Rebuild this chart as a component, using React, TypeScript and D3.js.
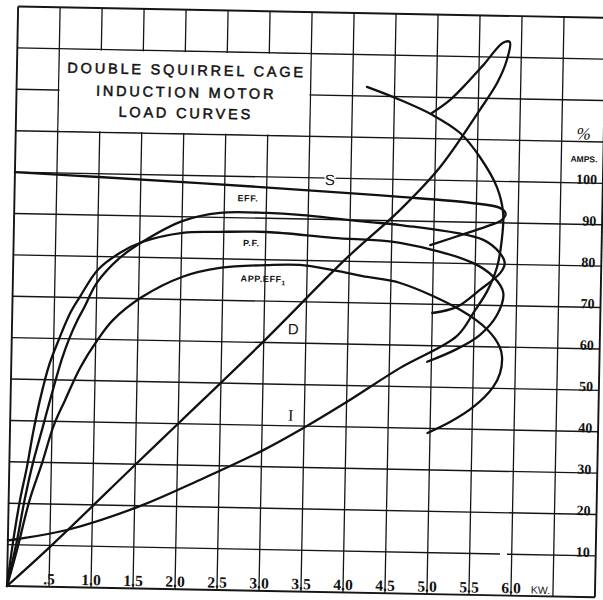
import * as d3 from 'd3'
import { useEffect, useRef } from 'react'

type Pt = [number, number] // [kW, per cent / amps]

// axis ticks
const xTickValues = [0.5, 1, 1.5, 2, 2.5, 3, 3.5, 4, 4.5, 5, 5.5, 6]
const xTickLabels = ['.5', '1.0', '1.5', '2.0', '2.5', '3.0', '3.5', '4.0', '4.5', '5.0', '5.5', '6.0']
const yTickValues = [10, 20, 30, 40, 50, 60, 70, 80, 90, 100]
const titleLines = ['DOUBLE SQUIRREL CAGE', 'INDUCTION MOTOR', 'LOAD CURVES']

// curves, in drawing order (they fold back past max output)
const curveS: Pt[] = [
  [0, 100], [1.0, 99.2], [2.2, 98.2], [3.76, 96.7], [4.59, 95.8], [5.42, 94.7],
  [5.78, 93.6], [5.85, 92.2], [5.8, 90.6], [5.67, 89.4], [5.4, 87.4], [4.96, 84.3],
]
const curveEff: Pt[] = [
  [0, 0], [0.11, 11.2], [0.19, 20.9], [0.28, 29.8], [0.39, 38.6], [0.47, 45.1],
  [0.6, 55], [0.68, 59.8], [0.78, 64.6], [0.86, 67.8], [1.0, 73.6], [1.27, 79.8],
  [1.53, 83.7], [2.01, 89], [2.45, 91.1], [3.01, 91.3], [3.4, 91], [4.2, 89.6],
  [4.6, 89], [5.59, 85.8], [5.79, 82.7], [5.85, 80.3], [5.8, 77.9], [5.56, 73.7],
  [5.29, 69.5], [5.0, 67.9],
]
const curvePf: Pt[] = [
  [0, 0], [0.06, 10.4], [0.135, 20.8], [0.21, 28.8], [0.275, 37.1], [0.35, 45.1],
  [0.45, 53.5], [0.56, 59.7], [0.69, 66.2], [0.8, 70.1], [1.01, 76.8], [1.27, 81],
  [1.53, 83.7], [2.01, 86.1], [2.45, 86.5], [3.01, 86.7], [3.8, 85.6], [4.6, 84.7],
  [5.47, 80.2], [5.72, 76.9], [5.84, 73.1], [5.77, 67.7], [5.57, 62.8], [5.28, 59.1],
  [4.95, 56.1],
]
const curveAppEff: Pt[] = [
  [0, 0], [0.11, 8.7], [0.25, 20.9], [0.39, 29.9], [0.52, 39], [0.65, 45.2],
  [0.82, 53], [1.02, 59.8], [1.2, 64.7], [1.54, 70.4], [2.02, 75.5], [2.46, 77.8],
  [3.02, 78.7], [3.41, 78.9], [3.81, 77.8], [4.22, 76.3], [4.61, 75], [5.33, 68.8],
  [5.66, 64.1], [5.81, 60], [5.84, 57.6], [5.82, 53.7], [5.74, 50.3], [5.51, 45.4],
  [5.24, 41.7], [4.97, 38.9],
]
const curveD: Pt[] = [
  [0, 0], [0.5, 9.6], [1.52, 30.3], [2.02, 40.4], [2.98, 59.9], [3.97, 80.8],
  [4.59, 92.6], [5.06, 103.2], [5.52, 117.2], [5.72, 123.8], [5.83, 129.4],
  [5.86, 133.7], [5.78, 133.5], [5.55, 128], [5.36, 123.6], [5.16, 119.4], [4.95, 116.2],
]
const curveI: Pt[] = [
  [0, 11], [0.12, 11.4], [0.7, 13.8], [1.54, 19.7], [2.27, 26.5], [3.02, 34],
  [3.49, 39.5], [4.0, 46], [4.63, 54.5], [5.3, 62.5], [5.5, 68.5], [5.65, 73.5],
  [5.76, 79.3], [5.81, 85.9], [5.82, 92.4], [5.74, 98.6], [5.53, 105.8],
  [5.29, 111.5], [4.96, 115.7], [4.57, 119.2], [4.17, 122.2],
]

const App = () => {
  const ref = useRef<SVGSVGElement>(null)

  useEffect(() => {
    if (!ref.current) return
    const root = d3.select(ref.current)
    root.selectAll('*').remove()

    root.append('rect').attr('width', 603).attr('height', 600).attr('fill', '#fff')

    // the plate is scanned slightly askew
    const g = root.append('g').attr('transform', 'translate(7,586) rotate(1.1)')

    const x = d3.scaleLinear().domain([0, 7]).range([0, 588])
    const y = d3.scaleLinear().domain([0, 140]).range([0, -579.6])

    // grid
    const xs = d3.range(0, 7.01, 0.5)
    const ys = d3.range(0, 141, 10)
    g.append('g')
      .selectAll('line')
      .data(xs)
      .join('line')
      .attr('x1', (d) => x(d))
      .attr('x2', (d) => x(d))
      .attr('y1', y(0))
      .attr('y2', y(140))
      .attr('stroke', '#151515')
      .attr('stroke-width', (d) => (d === 0 || d === 7 ? 1.9 : 1.3))
    g.append('g')
      .selectAll('line')
      .data(ys)
      .join('line')
      .attr('x1', x(0))
      .attr('x2', x(7))
      .attr('y1', (d) => y(d))
      .attr('y2', (d) => y(d))
      .attr('stroke', '#151515')
      .attr('stroke-width', (d) => (d === 0 || d === 140 ? 1.9 : 1.4))
      // the 10 line is broken just past 5.8 kW on the plate
      .attr('stroke-dasharray', (d) => (d === 10 ? `${x(5.86)} 7 1000` : null))

    // title box
    g.append('rect')
      .attr('x', x(0.5) + 1)
      .attr('y', y(130) + 1)
      .attr('width', x(3.5) - x(0.5) - 2)
      .attr('height', y(110) - y(130) - 2)
      .attr('fill', '#fff')
    const titleV = [125.5, 120.1, 115.1]
    g.append('g')
      .selectAll('text')
      .data(titleLines)
      .join('text')
      .attr('x', x(2.02))
      .attr('y', (_, i) => y(titleV[i]))
      .attr('dy', '0.36em')
      .attr('text-anchor', 'middle')
      .style('font-family', 'Liberation Sans, Arial, sans-serif')
      .style('font-size', '14.5px')
      .style('letter-spacing', '2.8px')
      .attr('fill', '#111')
      .attr('stroke', '#111')
      .attr('stroke-width', 0.5)
      .text((d) => d)

    // curves
    const line = d3
      .line<Pt>()
      .x((d) => x(d[0]))
      .y((d) => y(d[1]))
      .curve(d3.curveCatmullRom.alpha(0.5))
    const curves = [curveS, curveEff, curvePf, curveAppEff, curveD, curveI]
    g.append('g')
      .selectAll('path')
      .data(curves)
      .join('path')
      .attr('d', (d) => line(d))
      .attr('fill', 'none')
      .attr('stroke', '#111')
      .attr('stroke-width', 2.3)
      .attr('stroke-linejoin', 'round')
      .attr('stroke-linecap', 'round')

    // x tick labels
    g.append('g')
      .selectAll('text')
      .data(xTickValues)
      .join('text')
      .attr('x', (d) => x(d))
      .attr('y', y(0.6))
      .attr('text-anchor', 'middle')
      .style('font-family', 'Liberation Serif, serif')
      .style('font-weight', 'bold')
      .style('font-size', '15.5px')
      .attr('fill', '#111')
      .text((_, i) => xTickLabels[i])
    g.append('text')
      .attr('x', x(6.35))
      .attr('y', y(0.6))
      .attr('text-anchor', 'middle')
      .style('font-family', 'Liberation Sans, sans-serif')
      .style('font-size', '10.5px')
      .attr('fill', '#111')
      .text('KW.')

    // y tick labels
    g.append('g')
      .selectAll('text')
      .data(yTickValues)
      .join('text')
      .attr('x', x(6.93))
      .attr('y', (d) => y(d) + 1)
      .attr('text-anchor', 'end')
      .style('font-family', 'Liberation Serif, serif')
      .style('font-weight', 'bold')
      .style('font-size', '14px')
      .attr('fill', '#111')
      .text((d) => `${d}`)
    g.append('text')
      .attr('x', x(6.76))
      .attr('y', y(112))
      .attr('dy', '0.36em')
      .attr('text-anchor', 'middle')
      .style('font-family', 'Liberation Serif, serif')
      .style('font-style', 'italic')
      .style('font-size', '17px')
      .attr('fill', '#111')
      .text('%')
    g.append('text')
      .attr('x', x(6.77))
      .attr('y', y(105.8))
      .attr('dy', '0.36em')
      .attr('text-anchor', 'middle')
      .style('font-family', 'Liberation Sans, sans-serif')
      .style('font-weight', 'bold')
      .style('font-size', '8.5px')
      .attr('fill', '#111')
      .text('AMPS.')

    // curve labels
    const small = (t: string, u: number, v: number) =>
      g
        .append('text')
        .attr('x', x(u))
        .attr('y', y(v))
        .attr('dy', '0.36em')
        .attr('text-anchor', 'middle')
        .style('font-family', 'Liberation Sans, sans-serif')
        .style('font-weight', 'bold')
        .style('font-size', '9px')
        .style('letter-spacing', '0.6px')
        .attr('fill', '#111')
        .text(t)
    small('EFF.', 2.78, 94.8)
    small('P.F.', 2.83, 84)
    const app = small('APP.EFF', 2.98, 75.4)
    app
      .append('tspan')
      .attr('dy', '3')
      .style('font-size', '6.5px')
      .text('1')

    g.append('text')
      .attr('x', x(3.75))
      .attr('y', y(99.6))
      .attr('dy', '0.36em')
      .attr('text-anchor', 'middle')
      .style('font-family', 'Liberation Sans, sans-serif')
      .style('font-size', '15px')
      .attr('fill', '#111')
      .attr('stroke', '#fff')
      .attr('stroke-width', 3)
      .attr('paint-order', 'stroke')
      .text('S')
    g.append('text')
      .attr('x', x(3.35))
      .attr('y', y(63.4))
      .attr('dy', '0.36em')
      .attr('text-anchor', 'middle')
      .style('font-family', 'Liberation Sans, sans-serif')
      .style('font-size', '15px')
      .attr('fill', '#111')
      .text('D')
    g.append('text')
      .attr('x', x(3.34))
      .attr('y', y(42.6))
      .attr('dy', '0.36em')
      .attr('text-anchor', 'middle')
      .style('font-family', 'Liberation Serif, serif')
      .style('font-size', '16px')
      .attr('fill', '#111')
      .text('I')
  }, [])

  return (
    <svg
      ref={ref}
      width={603}
      height={600}
      style={{ position: 'absolute', left: 0, top: 0, display: 'block' }}
    />
  )
}

export default App
